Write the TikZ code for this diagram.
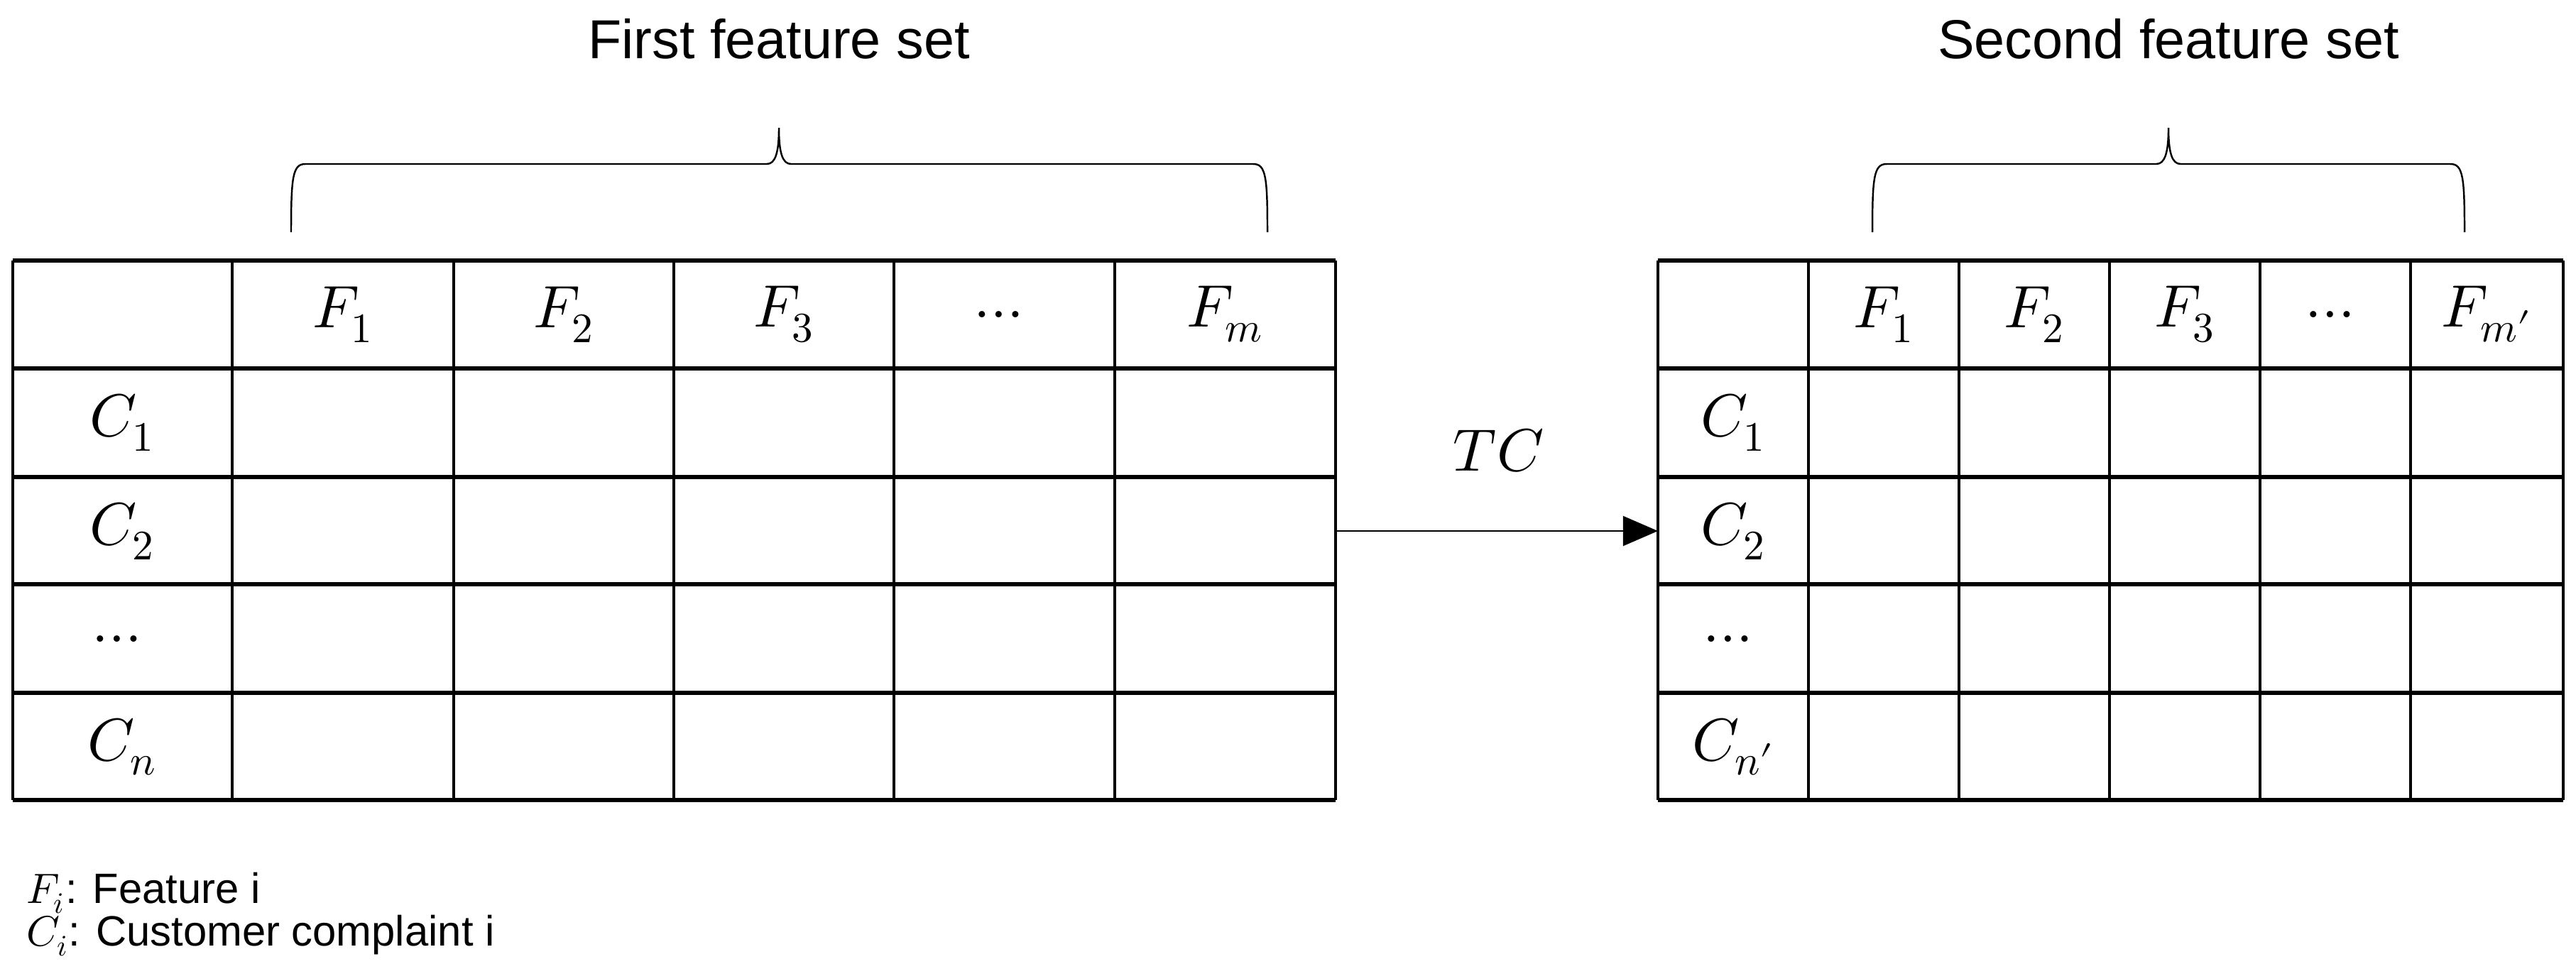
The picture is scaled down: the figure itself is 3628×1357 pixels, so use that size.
\documentclass[tikz,border=0pt]{standalone}
\usepackage{fontspec}
\setmainfont{Liberation Sans}
\usepackage{unicode-math}
\setmathfont{Latin Modern Math}
\usetikzlibrary{arrows.meta}
\begin{document}
\begin{tikzpicture}[x=0.01cm,y=-0.01cm,
  lbl/.style={font=\fontsize{22}{26}\selectfont},
  cell/.style={font=\fontsize{24}{28}\selectfont},
  grid/.style={line width=1.1pt},
  hgrid/.style={line width=1.6pt},
  brace/.style={line width=0.7pt},
  legend/.style={font=\fontsize{17}{20}\selectfont,anchor=west}]
\useasboundingbox (0,0) rectangle (3628,1357);
% left table
\foreach \x in {18,327,639,949,1259,1570,1881} \draw[grid] (\x,367) -- (\x,1127);
\foreach \y in {367,519,672,823,976,1127} \draw[hgrid] (18,\y) -- (1881,\y);
\node[cell] (lf1) at (483,443) {$F_1$};
\node[cell] (lf2) at (794,443) {$F_2$};
\node[cell] (lf3) at (1104,443) {$F_3$};
\node[cell] (lfd) at (1414,443) {$\dots$};
\node[cell] (lfm) at (1725,443) {$F_m$};
\node[cell] (lc1) at (172,595) {$C_1$};
\node[cell] (lc2) at (172,748) {$C_2$};
\node[cell] (lcd) at (172,900) {$\dots$};
\node[cell] (lcn) at (172,1052) {$C_n$};
% right table
\foreach \x in {2335,2547,2759,2971,3183,3395,3610} \draw[grid] (\x,367) -- (\x,1127);
\foreach \y in {367,519,672,823,976,1127} \draw[hgrid] (2335,\y) -- (3610,\y);
\node[cell] (rf1) at (2653,443) {$F_1$};
\node[cell] (rf2) at (2865,443) {$F_2$};
\node[cell] (rf3) at (3077,443) {$F_3$};
\node[cell] (rfd) at (3289,443) {$\dots$};
\node[cell] (rfm) at (3502,443) {$F_{m\prime}$};
\node[cell] (rc1) at (2441,595) {$C_1$};
\node[cell] (rc2) at (2441,748) {$C_2$};
\node[cell] (rcd) at (2441,900) {$\dots$};
\node[cell] (rcn) at (2441,1052) {$C_{n\prime}$};
% arrow
\coordinate (as) at (1881,748);
\coordinate (ae) at (2335,748);
\draw[line width=0.5pt,-{Triangle[length=14pt,width=12pt]}] (as) -- (ae);
\node[cell] (tc) at (2111,635) {$TC$};
% braces
\draw[brace] (410,327) .. controls (410,250) and (412,231) .. (430,231) -- (1080,231)
  .. controls (1092,231) and (1097,215) .. (1097,180)
  .. controls (1097,215) and (1102,231) .. (1114,231) -- (1765,231)
  .. controls (1783,231) and (1785,250) .. (1785,327);
\draw[brace] (2637,327) .. controls (2637,250) and (2639,231) .. (2657,231) -- (3037,231)
  .. controls (3049,231) and (3054,215) .. (3054,180)
  .. controls (3054,215) and (3059,231) .. (3071,231) -- (3451,231)
  .. controls (3469,231) and (3471,250) .. (3471,327);
\node[lbl] (t1) at (1097,55) {First feature set};
\node[lbl] (t2) at (3054,55) {Second feature set};
% legend
\node[legend] (l1) at (25,1258) {$F_i$: Feature i};
\node[legend] (l2) at (25,1318) {$C_i$: Customer complaint i};
\end{tikzpicture}
\end{document}
